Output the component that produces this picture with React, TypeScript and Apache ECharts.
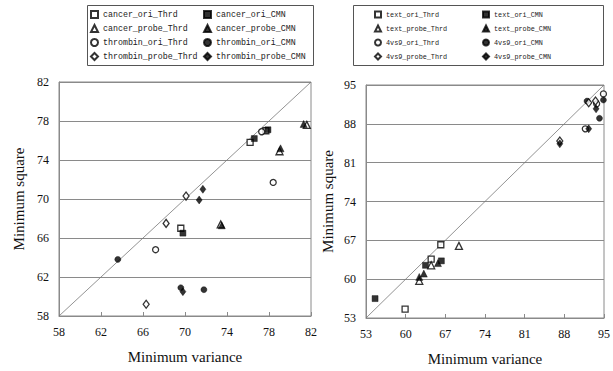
import React, { useEffect, useRef } from "react";
import * as echarts from "echarts";

const LEFT_TICKS = [58, 62, 66, 70, 74, 78, 82];
const RIGHT_TICKS = [53, 60, 67, 74, 81, 88, 95];

const cancerOriThrd = [[69.6, 67.0], [76.2, 75.8], [77.7, 77.0]];
const cancerOriCMN = [[69.8, 66.5], [76.6, 76.2], [77.9, 77.1]];
const cancerProbeThrd = [[73.4, 67.4], [79.0, 74.9], [81.6, 77.6]];
const cancerProbeCMN = [[73.5, 67.3], [79.1, 75.2], [81.3, 77.7]];
const thrombinOriThrd = [[67.2, 64.8], [77.3, 76.9], [78.4, 71.7]];
const thrombinOriCMN = [[63.6, 63.8], [69.6, 60.9], [71.8, 60.7]];
const thrombinProbeThrd = [[66.3, 59.2], [68.2, 67.5], [70.1, 70.3]];
const thrombinProbeCMN = [[69.8, 60.5], [71.35, 69.9], [71.7, 71.0]];

const textOriThrd = [[59.9, 54.6], [64.5, 63.6], [66.2, 66.2]];
const textOriCMN = [[54.6, 56.5], [63.5, 62.5], [66.3, 63.3]];
const textProbeThrd = [[62.4, 59.7], [64.5, 62.5], [69.4, 66.0]];
const textProbeCMN = [[62.4, 60.4], [63.2, 61.0], [65.7, 62.9]];
const v49OriThrd = [[91.7, 87.1], [93.7, 91.6], [94.9, 93.4]];
const v49OriCMN = [[92.0, 92.1], [94.2, 89.0], [94.9, 92.3]];
const v49ProbeThrd = [[87.2, 84.9], [92.3, 91.8], [93.5, 92.1]];
const v49ProbeCMN = [[87.2, 84.4], [92.3, 87.1], [93.6, 90.7]];

type S = { name: string; data: number[][]; symbol: string; open: boolean };

const LEFT_SERIES: S[] = [
  { name: "cancer_ori_Thrd", data: cancerOriThrd, symbol: "rect", open: true },
  { name: "cancer_ori_CMN", data: cancerOriCMN, symbol: "rect", open: false },
  { name: "cancer_probe_Thrd", data: cancerProbeThrd, symbol: "triangle", open: true },
  { name: "cancer_probe_CMN", data: cancerProbeCMN, symbol: "triangle", open: false },
  { name: "thrombin_ori_Thrd", data: thrombinOriThrd, symbol: "circle", open: true },
  { name: "thrombin_ori_CMN", data: thrombinOriCMN, symbol: "circle", open: false },
  { name: "thrombin_probe_Thrd", data: thrombinProbeThrd, symbol: "diamond", open: true },
  { name: "thrombin_probe_CMN", data: thrombinProbeCMN, symbol: "diamond", open: false },
];

const RIGHT_SERIES: S[] = [
  { name: "text_ori_Thrd", data: textOriThrd, symbol: "rect", open: true },
  { name: "text_ori_CMN", data: textOriCMN, symbol: "rect", open: false },
  { name: "text_probe_Thrd", data: textProbeThrd, symbol: "triangle", open: true },
  { name: "text_probe_CMN", data: textProbeCMN, symbol: "triangle", open: false },
  { name: "4vs9_ori_Thrd", data: v49OriThrd, symbol: "circle", open: true },
  { name: "4vs9_ori_CMN", data: v49OriCMN, symbol: "circle", open: false },
  { name: "4vs9_probe_Thrd", data: v49ProbeThrd, symbol: "diamond", open: true },
  { name: "4vs9_probe_CMN", data: v49ProbeCMN, symbol: "diamond", open: false },
];

const SIZES: Record<string, number | number[]> = {
  rect: 6,
  triangle: [7, 7],
  circle: 6,
  diamond: [6, 8],
};

const SERIF = "Liberation Serif";
const MONO = "Liberation Mono";
const GRAY = "#8a8a8a";

const mkLabel = () => ({ fontFamily: SERIF, fontSize: 12, color: "#111", margin: 10 });
const mkName = () => ({ fontFamily: SERIF, fontSize: 15, color: "#111" });
const mkAxisLine = () => ({ show: true, lineStyle: { color: GRAY, width: 1 } });

function xAxisOf(ticks: number[], gridIndex: number, gap: number) {
  return {
    type: "value",
    gridIndex,
    min: ticks[0],
    max: ticks[ticks.length - 1],
    interval: ticks[1] - ticks[0],
    name: "Minimum variance",
    nameLocation: "middle",
    nameGap: gap,
    nameTextStyle: mkName(),
    axisLine: mkAxisLine(),
    axisTick: { show: true, inside: true, length: 4, lineStyle: { color: GRAY } },
    axisLabel: mkLabel(),
    splitLine: { show: false },
  };
}

function yAxisOf(ticks: number[], gridIndex: number, gap: number) {
  return {
    type: "value",
    gridIndex,
    min: ticks[0],
    max: ticks[ticks.length - 1],
    interval: ticks[1] - ticks[0],
    name: "Minimum square",
    nameLocation: "middle",
    nameGap: gap,
    nameTextStyle: mkName(),
    axisLine: mkAxisLine(),
    axisTick: { show: false },
    axisLabel: mkLabel(),
    splitLine: { show: true, lineStyle: { color: GRAY, width: 1 } },
  };
}

function buildSeries(list: S[], gridIndex: number) {
  return list.map((s) => ({
    type: "scatter",
    name: s.name,
    xAxisIndex: gridIndex,
    yAxisIndex: gridIndex,
    data: s.data,
    symbol: s.symbol,
    symbolSize: SIZES[s.symbol],
    itemStyle: s.open
      ? { color: "#fff", borderColor: "#000", borderWidth: 1.3 }
      : { color: "#000", borderColor: "#000", borderWidth: 0.5 },
    emphasis: { disabled: true },
  }));
}

function legend(names: string[], left: number, top: number, fontSize: number, icon: number, gap: number) {
  return {
    orient: "vertical",
    left,
    top,
    padding: 0,
    data: names,
    itemWidth: icon,
    itemHeight: icon,
    itemGap: gap,
    itemTextGap: 4,
    selectedMode: false,
    textStyle: { fontFamily: MONO, fontSize, color: "#222", lineHeight: 10 },
  };
}

export default function App() {
  const ref = useRef<HTMLDivElement>(null);
  useEffect(() => {
    if (!ref.current) return;
    const chart = echarts.init(ref.current, undefined, { renderer: "svg" });
    const diag = (ticks: number[], i: number) => {
      const min = ticks[0];
      const max = ticks[ticks.length - 1];
      return {
        type: "line",
        xAxisIndex: i,
        yAxisIndex: i,
        data: [[min, min], [max, max]],
        symbol: "none",
        silent: true,
        lineStyle: { color: "#777", width: 0.8 },
        z: 1,
      };
    };
    const thrd = (l: S[]) => l.filter((s) => s.open).map((s) => s.name);
    const cmn = (l: S[]) => l.filter((s) => !s.open).map((s) => s.name);
    chart.setOption({
      animation: false,
      backgroundColor: "#fff",
      textStyle: { fontFamily: SERIF },
      grid: [
        { left: 59, top: 82, width: 252, height: 234, show: true, borderColor: GRAY, borderWidth: 1 },
        { left: 366, top: 85, width: 243, height: 235, show: true, borderColor: GRAY, borderWidth: 1 },
      ],
      xAxis: [xAxisOf(LEFT_TICKS, 0, 33), xAxisOf(RIGHT_TICKS, 1, 33)],
      yAxis: [yAxisOf(LEFT_TICKS, 0, 33), yAxisOf(RIGHT_TICKS, 1, 31)],
      legend: [
        legend(thrd(LEFT_SERIES), 90, 9.5, 8.3, 7, 4),
        legend(cmn(LEFT_SERIES), 203, 9.5, 8.3, 7, 4),
        legend(thrd(RIGHT_SERIES), 374, 9.5, 6.8, 6, 4),
        legend(cmn(RIGHT_SERIES), 482, 9.5, 6.8, 6, 4),
      ],
      graphic: [
        { type: "rect", shape: { x: 87.5, y: 5.5, width: 226, height: 60 }, style: { fill: "none", stroke: "#555", lineWidth: 1 } },
        { type: "rect", shape: { x: 353.5, y: 5.5, width: 250, height: 60 }, style: { fill: "none", stroke: "#555", lineWidth: 1 } },
      ],
      series: [
        diag(LEFT_TICKS, 0),
        diag(RIGHT_TICKS, 1),
        ...buildSeries(LEFT_SERIES, 0),
        ...buildSeries(RIGHT_SERIES, 1),
      ],
    });
    return () => chart.dispose();
  }, []);
  return (
    <div
      ref={ref}
      style={{ position: "fixed", left: 0, top: 0, width: 613, height: 371, background: "#fff" }}
    />
  );
}
